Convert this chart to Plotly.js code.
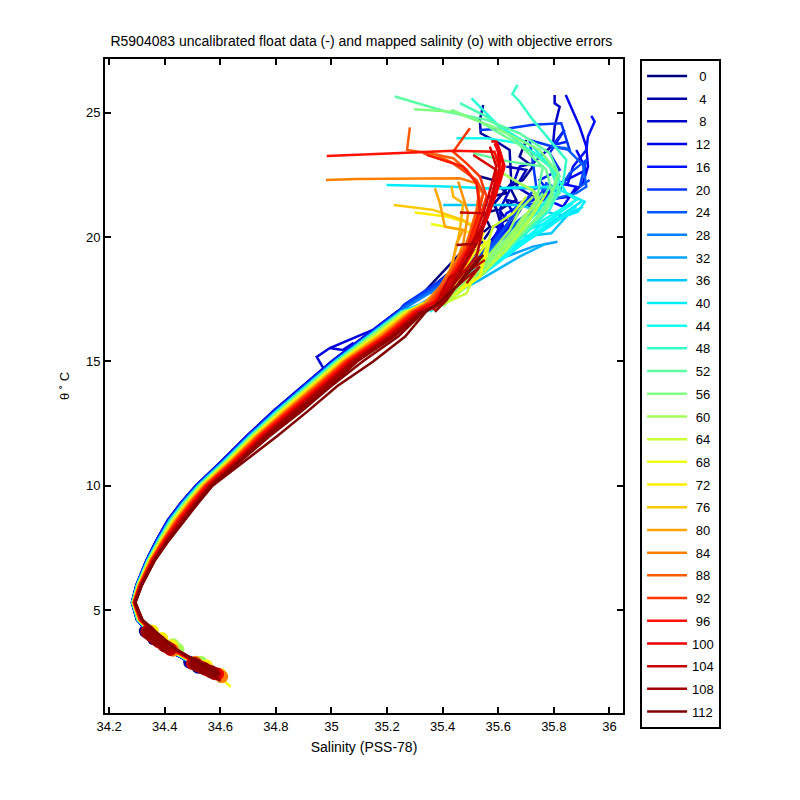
<!DOCTYPE html>
<html><head><meta charset="utf-8">
<script src="https://cdn.plot.ly/plotly-3.0.1.min.js"></script>
<style>html,body{margin:0;padding:0;background:#fff}</style>
</head><body><div id="chart" style="width:800px;height:800px"></div>
<script>
const chartTitle = 'R5904083 uncalibrated float data (-) and mapped salinity (o) with objective errors';
const xLabel = 'Salinity (PSS-78)';
const yLabel = '\u03b8 \u02da C';
const legendCycles = [0,4,8,12,16,20,24,28,32,36,40,44,48,52,56,60,64,68,72,76,80,84,88,92,96,100,104,108,112];
// potential temperature levels shared by the lower part of each profile
const thetaLevels = [2.4,3.5,4.6,5.3,6,7,7.8,8.6,9.3,10,11,12,13,14,15,16,17];
// salinity at thetaLevels
const band0  = [34.575,34.391,34.300,34.282,34.298,34.335,34.371,34.411,34.458,34.513,34.606,34.697,34.792,34.897,35.002,35.120,35.237];
const band4  = [34.575,34.390,34.300,34.282,34.298,34.334,34.370,34.410,34.457,34.512,34.605,34.695,34.790,34.895,35.000,35.118,35.235];
const band8  = [34.576,34.391,34.301,34.282,34.299,34.335,34.371,34.412,34.459,34.514,34.607,34.697,34.793,34.898,35.003,35.121,35.238];
const band12 = [34.575,34.390,34.300,34.282,34.298,34.334,34.370,34.411,34.458,34.513,34.606,34.696,34.791,34.896,35.001,35.119,35.236];
const band16 = [34.576,34.392,34.301,34.282,34.299,34.335,34.372,34.412,34.460,34.514,34.608,34.698,34.794,34.899,35.004,35.122,35.239];
const band20 = [34.576,34.393,34.301,34.283,34.299,34.336,34.373,34.414,34.461,34.516,34.610,34.700,34.796,34.902,35.006,35.125,35.242];
const band24 = [34.577,34.394,34.302,34.283,34.300,34.337,34.375,34.416,34.463,34.518,34.612,34.703,34.799,34.905,35.009,35.128,35.245];
const band28 = [34.577,34.395,34.302,34.283,34.300,34.338,34.375,34.417,34.465,34.519,34.613,34.704,34.801,34.906,35.011,35.129,35.247];
const band32 = [34.578,34.396,34.303,34.284,34.301,34.338,34.376,34.418,34.466,34.520,34.615,34.706,34.803,34.908,35.013,35.131,35.249];
const band36 = [34.578,34.396,34.303,34.284,34.301,34.339,34.377,34.420,34.467,34.522,34.616,34.707,34.804,34.910,35.014,35.133,35.251];
const band40 = [34.579,34.397,34.304,34.284,34.302,34.340,34.378,34.421,34.468,34.523,34.618,34.709,34.806,34.912,35.016,35.135,35.253];
const band44 = [34.578,34.397,34.303,34.284,34.301,34.339,34.378,34.420,34.468,34.522,34.617,34.708,34.805,34.911,35.015,35.134,35.252];
const band48 = [34.579,34.398,34.304,34.284,34.302,34.340,34.379,34.422,34.470,34.524,34.619,34.710,34.808,34.914,35.018,35.137,35.255];
const band52 = [34.579,34.399,34.304,34.285,34.302,34.341,34.380,34.423,34.471,34.525,34.620,34.712,34.810,34.916,35.020,35.139,35.257];
const band56 = [34.580,34.400,34.305,34.285,34.303,34.342,34.381,34.425,34.473,34.527,34.623,34.714,34.812,34.919,35.023,35.142,35.260];
const band60 = [34.581,34.401,34.306,34.285,34.304,34.343,34.383,34.427,34.475,34.529,34.625,34.716,34.815,34.922,35.025,35.145,35.263];
const band64 = [34.582,34.403,34.307,34.286,34.305,34.344,34.385,34.430,34.478,34.532,34.628,34.720,34.820,34.926,35.030,35.155,35.268];
const band68 = [34.582,34.404,34.307,34.286,34.305,34.345,34.386,34.432,34.480,34.534,34.630,34.722,34.822,34.929,35.032,35.158,35.271];
const band72 = [34.583,34.406,34.308,34.287,34.306,34.346,34.388,34.433,34.482,34.535,34.632,34.724,34.825,34.932,35.035,35.161,35.274];
const band76 = [34.584,34.407,34.309,34.287,34.307,34.347,34.389,34.436,34.484,34.538,34.635,34.727,34.829,34.936,35.039,35.165,35.278];
const band80 = [34.584,34.409,34.309,34.288,34.307,34.349,34.391,34.438,34.487,34.540,34.638,34.730,34.832,34.940,35.042,35.169,35.282];
const band84 = [34.585,34.410,34.310,34.288,34.308,34.350,34.393,34.441,34.489,34.543,34.641,34.733,34.836,34.943,35.046,35.178,35.286];
const band88 = [34.586,34.412,34.311,34.289,34.309,34.351,34.395,34.443,34.492,34.545,34.644,34.736,34.840,34.947,35.050,35.182,35.290];
const band90 = [34.587,34.413,34.312,34.289,34.310,34.352,34.396,34.445,34.494,34.547,34.646,34.739,34.842,34.950,35.052,35.185,35.293];
const band92 = [34.587,34.414,34.312,34.289,34.310,34.353,34.397,34.446,34.495,34.548,34.647,34.740,34.844,34.952,35.054,35.187,35.295];
const band94 = [34.588,34.416,34.313,34.290,34.311,34.354,34.399,34.448,34.497,34.550,34.650,34.743,34.848,34.956,35.058,35.191,35.299];
const band96 = [34.588,34.417,34.313,34.290,34.311,34.355,34.400,34.450,34.499,34.552,34.652,34.745,34.850,34.959,35.060,35.194,35.302];
const band98 = [34.589,34.418,34.314,34.290,34.312,34.356,34.402,34.452,34.501,34.554,34.654,34.748,34.853,34.962,35.063,35.196,35.305];
const band100= [34.590,34.420,34.315,34.291,34.313,34.357,34.403,34.454,34.504,34.556,34.657,34.751,34.857,34.965,35.067,35.200,35.309];
const band102= [34.590,34.421,34.315,34.291,34.313,34.358,34.405,34.456,34.505,34.558,34.659,34.753,34.859,34.968,35.069,35.203,35.312];
const band104= [34.591,34.422,34.316,34.292,34.314,34.359,34.406,34.458,34.507,34.560,34.661,34.755,34.862,34.971,35.072,35.206,35.315];
const band106= [34.592,34.424,34.317,34.292,34.315,34.360,34.408,34.460,34.510,34.562,34.664,34.758,34.866,34.975,35.076,35.210,35.319];
const band108= [34.593,34.425,34.318,34.293,34.316,34.361,34.410,34.463,34.512,34.565,34.667,34.761,34.868,34.978,35.079,35.214,35.323];
const band109= [34.593,34.426,34.318,34.293,34.316,34.362,34.411,34.464,34.514,34.566,34.668,34.767,34.873,34.985,35.086,35.218,35.325];
const band110= [34.594,34.428,34.319,34.294,34.317,34.363,34.412,34.466,34.516,34.568,34.671,34.772,34.880,34.995,35.092,35.226,35.329];
const band111= [34.594,34.429,34.320,34.294,34.317,34.364,34.414,34.468,34.518,34.570,34.672,34.778,34.892,34.998,35.112,35.240,35.332];
const band112= [34.595,34.430,34.320,34.294,34.318,34.365,34.415,34.470,34.520,34.572,34.690,34.805,34.915,35.020,35.150,35.265,35.340];

// upper part of each profile, salinity then theta
const upS0 = [35.318,35.408,35.486,35.57,35.546,35.594,35.57,35.63,35.582,35.534];
const upT0 = [17.61,18.68,19.62,20.42,20.96,21.1,21.63,21.77,22.3,22.44];
const upS4 = [35.366,35.486,35.558,35.612,35.587,35.647,35.641,35.593,35.537,35.534,35.546];
const upT4 = [18.01,19.08,19.62,20.42,21.37,22.17,23.51,23.85,24.18,24.72,25.32];
const upS8 = [35.354,35.486,35.558,35.617,35.605,35.629,35.659,35.677,35.725,35.797,35.803,35.821,35.803,35.803];
const upT8 = [17.88,18.68,19.62,20.42,21.1,21.63,22.3,22.84,22.97,23.71,24.45,25.25,25.39,25.72];
const upS12 = [35.294,35.462,35.558,35.617,35.665,35.701,35.773,35.857,35.905,35.923,35.917,35.893,35.869,35.843];
const upT12 = [17.47,18.55,19.49,20.16,20.83,21.5,21.5,21.63,22.17,22.84,23.64,24.45,25.05,25.72];
const upS16 = [35.27,35.558,35.629,35.737,35.797,35.851,35.869,35.917,35.923,35.947,35.935];
const upT16 = [17.34,19.35,20.96,21.63,22.03,22.17,22.84,23.51,24.05,24.65,24.88];
const upS20 = [35.26,35.558,35.653,35.737,35.713,35.797,35.857,35.827,35.725,35.641,35.534];
const upT20 = [17.27,19.49,20.83,22.03,23.91,23.64,23.51,24.58,24.52,24.38,24.31];
const upS24 = [35.27,35.534,35.677,35.785,35.881,35.917,35.905,35.845,35.791];
const upT24 = [17.25,19.15,20.7,21.5,21.77,22.03,22.91,23.58,23.65];
const upS28 = [35.28,35.51,35.653,35.749,35.821,35.773,35.665,35.557];
const upT28 = [17.25,18.82,20.29,21.23,21.83,21.97,21.97,21.97];
const upS32 = [35.318,35.486,35.629,35.725,35.813];
const upT32 = [17.3,18.41,19.22,19.62,19.82];
const upS36 = [35.33,35.534,35.677,35.791,35.845,35.665,35.534,35.402];
const upT36 = [17.3,18.82,20.02,20.16,20.83,21.3,21.3,21.3];
const upS40 = [35.34,35.51,35.701,35.887,35.911,35.845,35.797,35.558,35.414,35.198];
const upT40 = [17.35,18.55,20.29,21.03,21.43,21.77,22.03,21.97,22.04,22.1];
const upS44 = [35.34,35.522,35.725,35.881,35.845,35.785,35.677,35.558,35.45];
const upT44 = [17.3,18.68,20.43,21.5,21.77,22.97,23.78,23.98,23.98];
const upS48 = [35.37,35.558,35.737,35.833,35.845,35.785,35.725,35.677,35.651,35.669];
const upT48 = [17.3,18.95,20.69,22.17,23.11,23.91,24.72,25.46,25.76,26.13];
const upS52 = [35.40,35.581,35.749,35.821,35.785,35.677,35.558,35.414,35.228];
const upT52 = [17.4,19.22,20.83,22.44,23.38,24.18,24.72,25.05,25.66];
const upS56 = [35.41,35.593,35.773,35.815,35.749,35.581,35.438,35.297];
const upT56 = [17.35,19.35,21.1,22.57,23.51,24.45,25.05,25.15];
const upS60 = [35.42,35.558,35.665,35.737,35.725,35.677,35.617];
const upT60 = [17.4,18.68,20.29,21.5,21.9,22.17,22.57];
const upS64 = [35.41,35.486,35.546,35.581,35.653,35.701];
const upT64 = [17.35,17.74,19.22,20.42,20.96,21.63];
const upS68 = [35.33,35.438,35.522,35.558,35.534,35.474,35.358];
const upT68 = [17.35,17.88,19.22,19.75,20.02,20.29,20.53];
const upS72 = [35.33,35.438,35.522,35.546,35.498,35.414,35.3];
const upT72 = [17.3,18.01,19.49,20.16,20.56,20.83,20.99];
const upS76 = [35.33,35.438,35.51,35.522,35.474,35.366,35.224];
const upT76 = [17.3,18.15,19.49,20.29,20.69,21.1,21.3];
const upS80 = [35.33,35.426,35.45,35.474,35.408,35.39,35.372];
const upT80 = [17.3,18.41,19.75,20.29,20.42,21.37,21.97];
const upS84 = [35.34,35.438,35.486,35.522,35.546,35.522,35.462,35.294,35.09,34.98];
const upT84 = [17.3,18.68,19.75,20.69,21.77,22.17,22.37,22.37,22.34,22.3];
const upS88 = [35.35,35.45,35.498,35.534,35.522,35.486,35.438,35.354,35.272,35.282];
const upT88 = [17.35,18.95,20.02,21.5,22.17,22.71,23.18,23.38,23.51,24.42];
const upS92 = [35.36,35.474,35.522,35.558,35.534,35.486,35.438,35.498];
const upT92 = [17.4,19.08,20.42,21.63,22.44,22.97,23.44,24.38];
const upS96 = [35.37,35.486,35.546,35.581,35.605,35.587,35.438,35.27,35.15,34.983];
const upT96 = [17.4,19.22,20.42,21.9,22.71,23.44,23.48,23.4,23.35,23.27];
const upS100 = [35.38,35.498,35.558,35.605,35.623,35.605,35.593,35.575];
const upT100 = [17.45,19.49,20.69,22.17,22.84,23.51,23.85,23.85];
const upS104 = [35.39,35.522,35.558,35.462];
const upT104 = [17.34,19.75,20.96,20.99];
const upS108 = [35.402,35.486,35.522,35.45];
const upT108 = [17.34,19.08,19.75,19.69];
const upS112 = [35.39,35.462,35.546];
const upT112 = [17.4,18.15,19.29];

// further profiles that have no legend row
const xS2 = [35.701,35.677,35.725,35.689,35.641,35.665,35.605,35.629,35.581,35.522,35.378];
const xT2 = [23.91,23.24,22.84,22.3,22.03,21.5,21.1,20.69,20.42,19.49,18.15];
const xS6 = [35.629,35.701,35.665,35.725,35.677,35.629,35.653,35.593,35.629,35.558,35.462,35.354];
const xT6 = [22.84,22.71,22.04,21.63,21.37,21.5,20.96,20.42,20.16,19.49,18.68,17.74];
const xS14 = [35.881,35.917,35.869,35.821,35.881,35.833,35.749,35.797,35.725,35.677,35.605,35.534,35.414];
const xT14 = [23.51,22.71,22.44,22.17,22.03,21.23,21.63,21.9,21.1,20.7,20.02,19.22,18.15];
const xS18 = [35.851,35.797,35.839,35.785,35.821,35.749,35.785,35.701,35.737,35.641,35.558,35.438];
const xT18 = [23.85,23.71,24.32,23.38,22.71,22.3,21.77,21.37,20.96,20.29,19.35,18.15];
const xS22 = [35.929,35.893,35.917,35.857,35.821,35.773,35.737,35.665,35.629,35.581,35.498,35.39];
const xT22 = [22.3,22.03,23.11,22.57,21.9,22.17,21.37,21.23,20.42,19.75,18.95,17.74];
const xS39 = [35.899,35.821,35.701,35.558,35.354];
const xT39 = [21.43,20.83,19.89,18.68,17.07];
const xS41 = [35.881,35.785,35.653,35.51,35.342];
const xT41 = [21.23,20.43,19.49,18.41,17.0];
const xS43 = [35.833,35.737,35.629,35.486,35.354];
const xT43 = [21.1,20.16,19.22,18.01,17.0];
const xS47 = [35.797,35.821,35.785,35.701,35.581,35.39];
const xT47 = [22.71,21.9,21.1,20.16,18.95,17.27];
const xS49 = [35.809,35.773,35.677,35.534,35.378];
const xT49 = [22.17,21.1,20.02,18.55,17.21];
const xS51 = [35.785,35.737,35.641,35.522,35.378];
const xT51 = [22.04,21.1,19.89,18.68,17.21];
const xS55 = [35.761,35.701,35.629,35.51,35.39];
const xT55 = [21.77,20.83,19.89,18.41,17.21];
const xS57 = [35.749,35.689,35.665,35.558,35.402];
const xT57 = [21.37,20.83,20.42,18.95,17.34];
const xS59 = [35.725,35.677,35.641,35.534,35.402];
const xT59 = [21.63,21.1,20.29,18.82,17.21];
const xS46 = [35.504,35.605,35.725,35.797,35.809,35.737,35.605,35.354];
const xT46 = [25.59,24.45,23.64,22.71,22.03,20.96,19.49,17.21];
const xS50 = [35.462,35.558,35.677,35.785,35.821,35.725,35.593,35.366];
const xT50 = [25.39,24.85,23.78,22.84,21.77,20.56,19.22,17.14];
const xS54 = [35.432,35.534,35.677,35.773,35.797,35.701,35.558,35.366];
const xT54 = [25.12,24.65,23.71,22.71,21.63,20.29,18.82,17.14];
const xS53 = [35.51,35.641,35.761,35.749,35.737,35.617,35.498];
const xT53 = [23.38,23.04,22.84,22.17,21.1,19.75,18.68];
const xS58 = [35.617,35.677,35.737,35.749,35.677,35.57,35.39];
const xT58 = [22.57,22.17,21.77,21.37,20.29,18.95,17.34];
const xS62 = [35.773,35.713,35.629,35.534,35.402];
const xT62 = [21.77,20.69,19.49,18.41,17.34];
const xS38 = [35.905,35.773,35.629,35.486,35.318];
const xT38 = [21.23,20.43,19.49,18.28,17.0];
const xS42 = [35.869,35.749,35.605,35.462,35.306];
const xT42 = [21.37,20.43,19.08,18.01,17.0];
const xS34 = [35.773,35.677,35.534,35.377];
const xT34 = [19.75,19.22,18.28,17.34];
const xS66 = [35.534,35.57,35.558,35.486,35.438];
const xT66 = [19.62,19.89,19.22,18.15,17.61];
const xS70 = [35.462,35.534,35.558];
const xT70 = [17.88,18.41,19.49];
const xS78 = [35.432,35.438,35.474,35.462,35.45,35.426,35.342];
const xT78 = [22.04,21.63,21.37,20.29,19.62,18.68,17.07];
const xS82 = [35.456,35.492,35.474,35.438,35.354];
const xT82 = [22.24,20.96,19.75,18.68,17.07];
const xS86 = [35.378,35.486,35.534,35.522,35.486,35.414,35.342];
const xT86 = [23.31,22.71,22.04,21.1,19.75,18.41,17.07];
const xS90 = [35.33,35.438,35.522,35.546,35.51,35.438,35.354];
const xT90 = [23.38,22.97,22.3,21.77,20.02,18.68,17.07];
const xS95 = [35.342,35.474,35.522,35.534,35.486,35.414,35.354];
const xT95 = [23.31,22.84,22.17,21.1,19.49,18.15,17.07];
const xS98 = [35.593,35.611,35.593,35.57,35.522,35.438,35.366];
const xT98 = [23.85,23.24,22.17,21.1,19.75,18.15,17.07];
const xS99 = [35.587,35.617,35.593,35.558,35.498,35.414];
const xT99 = [23.78,22.97,21.77,20.7,19.22,17.61];
const xS101 = [35.599,35.605,35.57,35.534,35.474,35.402];
const xT101 = [23.51,22.57,21.37,20.29,18.95,17.47];
const xS102 = [35.51,35.593,35.581,35.546,35.486,35.402];
const xT102 = [23.31,22.71,21.63,20.56,19.22,17.47];
const xS103 = [35.57,35.593,35.558,35.516,35.462,35.39];
const xT103 = [23.64,22.84,21.37,20.02,18.82,17.47];
const xS105 = [35.366,35.426,35.498,35.552];
const xT105 = [17.07,18.41,18.68,19.08];
const xS106 = [35.498,35.546,35.522,35.462,35.402];
const xT106 = [19.62,20.42,19.22,18.41,17.61];
const xS107 = [35.486,35.534,35.45,35.378];
const xT107 = [18.15,18.82,18.01,17.21];
const xS110 = [35.534,35.474,35.414,35.372];
const xT110 = [19.22,18.41,17.47,17.0];
const xS10 = [34.97,34.947,34.994,35.149];
const xT10 = [14.74,15.18,15.54,16.27];
const xS11 = [34.994,35.04,35.08];
const xT11 = [15.54,15.46,15.75];
const xS69 = [34.637,34.60,34.57];
const xT69 = [1.91,2.3,2.6];
const xS113 = [34.60,34.57];
const xT113 = [2.14,2.45];

// mapped salinity circles
const mapS4 = [34.33,34.36,34.49,34.52];
const mapT4 = [4.15,3.85,2.9,2.7];
const mapS60 = [34.447,34.43,34.53];
const mapT60 = [3.42,3.6,2.9];
const mapS72 = [34.355,34.39,34.425,34.55,34.6];
const mapT72 = [4.15,3.85,3.55,2.75,2.4];
const mapS84 = [34.345,34.385,34.43,34.51,34.605];
const mapT84 = [4.1,3.7,3.38,2.9,2.32];
const mapS100 = [34.34,34.38,34.42,34.5,34.59];
const mapT100 = [4.15,3.75,3.42,2.85,2.42];
const mapS106 = [34.335,34.35,34.365,34.38,34.395,34.41,34.42,34.505,34.52,34.535,34.55,34.565,34.58];
const mapT106 = [4.12,3.98,3.85,3.72,3.6,3.5,3.42,2.85,2.76,2.68,2.6,2.52,2.44];
const mapS110 = [34.34,34.37,34.4,34.51,34.54,34.57];
const mapT110 = [4.07,3.8,3.55,2.83,2.66,2.5];

const bands = {0:band0,4:band4,8:band8,12:band12,16:band16,20:band20,24:band24,28:band28,32:band32,36:band36,40:band40,44:band44,48:band48,52:band52,56:band56,60:band60,64:band64,68:band68,72:band72,76:band76,80:band80,84:band84,88:band88,92:band92,96:band96,100:band100,104:band104,108:band108,112:band112};
const ups = {0:[upS0,upT0],4:[upS4,upT4],8:[upS8,upT8],12:[upS12,upT12],16:[upS16,upT16],20:[upS20,upT20],24:[upS24,upT24],28:[upS28,upT28],32:[upS32,upT32],36:[upS36,upT36],40:[upS40,upT40],44:[upS44,upT44],48:[upS48,upT48],52:[upS52,upT52],56:[upS56,upT56],60:[upS60,upT60],64:[upS64,upT64],68:[upS68,upT68],72:[upS72,upT72],76:[upS76,upT76],80:[upS80,upT80],84:[upS84,upT84],88:[upS88,upT88],92:[upS92,upT92],96:[upS96,upT96],100:[upS100,upT100],104:[upS104,upT104],108:[upS108,upT108],112:[upS112,upT112]};
const bandOnly = [[90,band90],[94,band94],[98,band98],[102,band102],[106,band106],[109,band109],[110,band110],[111,band111]];
const extras = [[2,xS2,xT2],[6,xS6,xT6],[14,xS14,xT14],[18,xS18,xT18],[22,xS22,xT22],[39,xS39,xT39],[41,xS41,xT41],[43,xS43,xT43],[47,xS47,xT47],[49,xS49,xT49],[51,xS51,xT51],[55,xS55,xT55],[57,xS57,xT57],[59,xS59,xT59],[46,xS46,xT46],[50,xS50,xT50],[54,xS54,xT54],[53,xS53,xT53],[58,xS58,xT58],[62,xS62,xT62],[38,xS38,xT38],[42,xS42,xT42],[34,xS34,xT34],[66,xS66,xT66],[70,xS70,xT70],[78,xS78,xT78],[82,xS82,xT82],[86,xS86,xT86],[90,xS90,xT90],[95,xS95,xT95],[98,xS98,xT98],[99,xS99,xT99],[101,xS101,xT101],[102,xS102,xT102],[103,xS103,xT103],[105,xS105,xT105],[106,xS106,xT106],[107,xS107,xT107],[110,xS110,xT110],[10,xS10,xT10],[10,xS11,xT11],[69,xS69,xT69],[111,xS113,xT113]];
const mapped = [[4,mapS4,mapT4],[60,mapS60,mapT60],[72,mapS72,mapT72],[84,mapS84,mapT84],[100,mapS100,mapT100],[106,mapS106,mapT106],[110,mapS110,mapT110]];

const lastCycle = 112;
function jet(c){
  const v = c / lastCycle, f = t => Math.round(255*Math.max(0,Math.min(1,t)));
  return 'rgb('+f(1.5-Math.abs(4*v-3))+','+f(1.5-Math.abs(4*v-2))+','+f(1.5-Math.abs(4*v-1))+')';
}
const lineW = 2.5;
const items = [];
legendCycles.forEach(c => {
  const pad = '\u00a0'.repeat(c < 10 ? 2 : c < 100 ? 1 : 0);
  items.push({cycle:c, order:0, trace:{type:'scatter',mode:'lines',name:pad+c,legendgroup:'c'+c,showlegend:true,
    x:bands[c].concat(ups[c][0]), y:thetaLevels.concat(ups[c][1]),
    line:{color:jet(c),width:lineW}, hoverinfo:'skip'}});
});
bandOnly.forEach(([c,s]) => items.push({cycle:c, order:1, trace:{type:'scatter',mode:'lines',showlegend:false,x:s,y:thetaLevels,line:{color:jet(c),width:lineW},hoverinfo:'skip'}}));
extras.forEach(([c,s,t]) => items.push({cycle:c, order:1, trace:{type:'scatter',mode:'lines',showlegend:false,x:s,y:t,line:{color:jet(c),width:lineW},hoverinfo:'skip'}}));
mapped.forEach(([c,s,t]) => items.push({cycle:c, order:2, trace:{type:'scatter',mode:'markers',showlegend:false,x:s,y:t,marker:{color:jet(c),size:13},hoverinfo:'skip'}}));
items.sort((a,b)=> a.cycle-b.cycle || a.order-b.order);

const font = {family:'Liberation Sans, Arial, sans-serif', size:13, color:'#000'};
const bigFont = {family:'Liberation Sans, Arial, sans-serif', size:14, color:'#000'};
const axisCommon = {showgrid:false, zeroline:false, showline:true, linecolor:'#000', linewidth:2, mirror:'ticks',
  ticks:'inside', ticklen:6, tickwidth:2, tickcolor:'#000', tickfont:font};
const layout = {
  width:800, height:800, autosize:false, paper_bgcolor:'#fff', plot_bgcolor:'#fff', font:font,
  margin:{l:105,r:177,t:59,b:87},
  title:{text:chartTitle, font:bigFont, x:0.495, xanchor:'center', xref:'paper', y:1-41/800, yref:'container', yanchor:'middle'},
  xaxis:Object.assign({range:[34.185,36.049], tick0:34.2, dtick:0.2, title:{text:xLabel,font:bigFont,standoff:10}}, axisCommon),
  yaxis:Object.assign({range:[0.855,27.17], tick0:0, dtick:5, title:{text:yLabel,font:font,standoff:13}}, axisCommon),
  legend:{x:1.033, y:1, xanchor:'left', yanchor:'top', bgcolor:'#fff', bordercolor:'#000', borderwidth:2, maxheight:720,
    font:font, itemwidth:40, tracegroupgap:2.8, entrywidth:33, entrywidthmode:'pixels', itemclick:false, itemdoubleclick:false},
  showlegend:true
};
Plotly.newPlot('chart', items.map(i=>i.trace), layout, {displayModeBar:false, staticPlot:true});
</script></body></html>
